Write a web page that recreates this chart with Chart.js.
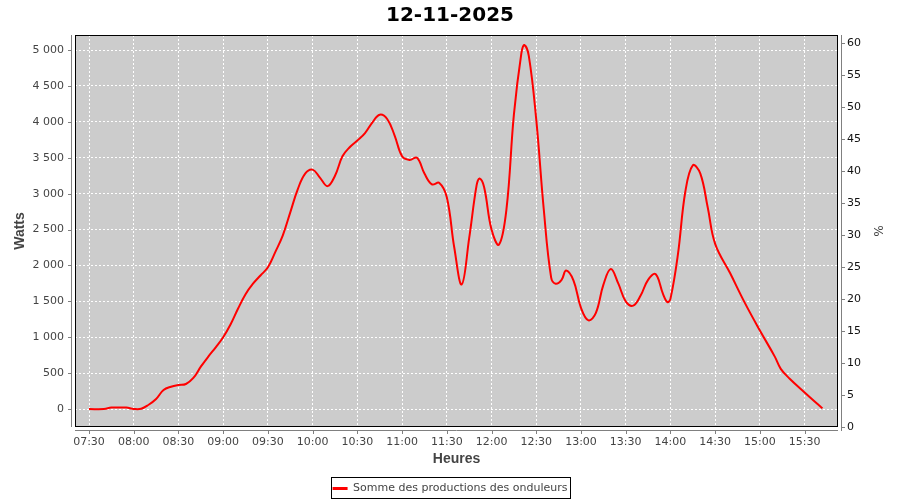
<!DOCTYPE html>
<html>
<head>
<meta charset="utf-8">
<script src="https://cdn.jsdelivr.net/npm/chart.js@4.4.1/dist/chart.umd.min.js"></script>
<style>
  html, body { margin: 0; padding: 0; background: #fff; }
  #wrap { width: 900px; height: 500px; }
</style>
</head>
<body>
<div id="wrap"><canvas id="chart" width="900" height="500"></canvas></div>
<script>
// production sampled from the inverters (time of day, watts)
const times = [
  '07:30', '07:40', '07:45', '07:50', '07:55', '08:00', '08:05', '08:10', '08:15', '08:20',
  '08:25', '08:30', '08:35', '08:40', '08:45', '08:50', '08:55', '09:00', '09:05', '09:10',
  '09:15', '09:20', '09:25', '09:30', '09:35', '09:40', '09:45', '09:50', '09:55', '10:00',
  '10:05', '10:10', '10:15', '10:20', '10:25', '10:30', '10:35', '10:40', '10:45', '10:50',
  '10:55', '11:00', '11:05', '11:10', '11:15', '11:20', '11:25', '11:30', '11:35', '11:40',
  '11:45', '11:50', '11:52', '11:55', '12:00', '12:05', '12:10', '12:15', '12:20', '12:22',
  '12:25', '12:30', '12:35', '12:40', '12:43', '12:47', '12:50', '12:55', '13:00', '13:05',
  '13:10', '13:15', '13:20', '13:25', '13:30', '13:35', '13:40', '13:45', '13:50', '13:55',
  '13:58', '14:00', '14:05', '14:10', '14:15', '14:20', '14:25', '14:30', '14:40', '14:50',
  '15:00', '15:10', '15:14', '15:20', '15:30', '15:40', '15:42',
];
const watts = [
  0, 0, 20, 20, 20, 2, 5, 60, 140, 265,
  311, 335, 349, 433, 590, 730, 860, 1000, 1180, 1400,
  1600, 1746, 1860, 1975, 2190, 2420, 2740, 3060, 3280, 3335,
  3220, 3105, 3250, 3520, 3650, 3740, 3840, 3990, 4100, 4040,
  3810, 3520, 3470, 3500, 3280, 3130, 3150, 2950, 2250, 1736,
  2380, 3119, 3212, 3093, 2500, 2290, 2780, 4100, 4954, 5070,
  4920, 4030, 2790, 1830, 1746, 1800, 1930, 1790, 1410, 1235,
  1340, 1730, 1950, 1750, 1500, 1440, 1580, 1800, 1880, 1605,
  1489, 1535, 2150, 3030, 3395, 3282, 2810, 2300, 1894, 1475,
  1094, 730, 560, 423, 232, 46, 10,
];

// tick labels on the three axes
const wattTicks = [0, 500, 1000, 1500, 2000, 2500, 3000, 3500, 4000, 4500, 5000];
const pctTicks = [0, 5, 10, 15, 20, 25, 30, 35, 40, 45, 50, 55, 60];
const hourTicks = [
  '07:30', '08:00', '08:30', '09:00', '09:30', '10:00', '10:30', '11:00', '11:30',
  '12:00', '12:30', '13:00', '13:30', '14:00', '14:30', '15:00', '15:30',
];

const wattRange = { min: -250, max: 5210 };
const pctRange = { min: 0, max: 61.3 };
const timeRange = { min: '07:20.6', max: '15:52.4' };

const toMinutes = s => { const [h, m] = s.split(':').map(Number); return h * 60 + m; };
const toLabel = v => {
  const h = Math.floor(v / 60), m = Math.round(v % 60);
  return String(h).padStart(2, '0') + ':' + String(m).padStart(2, '0');
};
const spaced = v => String(Math.round(v)).replace(/\B(?=(\d{3})+(?!\d))/g, ' ');
const fixedTicks = values => s => { s.ticks = values.map(v => ({ value: v })); };

Chart.defaults.font.family = "'DejaVu Sans', sans-serif";
Chart.defaults.font.size = 11;
Chart.defaults.color = '#444444';

// grey plot background, black frame, offset grey axis lines with small outward ticks
const frame = {
  id: 'frame',
  beforeDraw(chart) {
    const { ctx, chartArea: a } = chart;
    ctx.save();
    ctx.fillStyle = '#cccccc';
    ctx.fillRect(a.left, a.top, a.right - a.left, a.bottom - a.top);
    ctx.restore();
  },
  afterDraw(chart) {
    const { ctx, chartArea: a, scales } = chart;
    ctx.save();
    ctx.lineWidth = 1;
    ctx.strokeStyle = '#000';
    ctx.strokeRect(a.left + 0.5, a.top + 0.5, a.right - a.left - 1, a.bottom - a.top - 1);

    ctx.strokeStyle = '#808080';
    ctx.beginPath();
    const lx = a.left - 3.5;
    ctx.moveTo(lx, a.top); ctx.lineTo(lx, a.bottom);
    scales.y.ticks.forEach(t => {
      const y = Math.round(scales.y.getPixelForValue(t.value)) + 0.5;
      ctx.moveTo(lx - 3.5, y); ctx.lineTo(lx, y);
    });
    const rx = a.right + 3.5;
    ctx.moveTo(rx, a.top); ctx.lineTo(rx, a.bottom + 4);
    scales.y2.ticks.forEach(t => {
      const y = Math.round(scales.y2.getPixelForValue(t.value)) + 0.5;
      ctx.moveTo(rx, y); ctx.lineTo(rx + 3.5, y);
    });
    const by = a.bottom + 3.5;
    ctx.moveTo(a.left, by); ctx.lineTo(a.right, by);
    scales.x.ticks.forEach(t => {
      const x = Math.round(scales.x.getPixelForValue(t.value)) + 0.5;
      ctx.moveTo(x, by); ctx.lineTo(x, by + 3.5);
    });
    ctx.stroke();

    // border round the legend
    const lg = chart.legend;
    if (lg && lg.legendHitBoxes && lg.legendHitBoxes.length) {
      const hb = lg.legendHitBoxes[0];
      ctx.strokeStyle = '#000';
      ctx.strokeRect(Math.round(hb.left) - 1.5, Math.round(hb.top) - 5.5, Math.round(hb.width) + 4, Math.round(hb.height) + 10);
    }
    ctx.restore();
  },
};

const canvas = document.getElementById('chart');
const chart = new Chart(canvas, {
  type: 'line',
  data: {
    datasets: [
      {
        label: 'Somme des productions des onduleurs',
        data: times.map((t, i) => ({ x: toMinutes(t), y: watts[i] })),
        borderColor: '#ff0000',
        backgroundColor: '#ff0000',
        borderWidth: 2,
        pointRadius: 0,
        tension: 0.4,
        yAxisID: 'y',
      },
    ],
  },
  options: {
    responsive: false,
    animation: false,
    events: [],
    layout: { padding: { left: 0, right: 0, top: 0, bottom: -4 } },
    scales: {
      x: {
        type: 'linear',
        min: toMinutes(timeRange.min),
        max: toMinutes(timeRange.max),
        afterFit: s => { s.height = 51; },
        afterBuildTicks: fixedTicks(hourTicks.map(toMinutes)),
        grid: { color: '#ffffff', lineWidth: 1, drawTicks: false },
        border: { display: false, dash: [2, 2] },
        ticks: {
          autoSkip: false,
          maxRotation: 0,
          padding: 9,
          color: '#444444',
          callback: v => toLabel(v),
        },
        title: {
          display: true,
          text: 'Heures',
          color: '#444444',
          font: { size: 14, weight: 'bold', family: "'Liberation Sans', sans-serif" },
          padding: { top: 2, bottom: 10 },
        },
      },
      y: {
        position: 'left',
        min: wattRange.min,
        max: wattRange.max,
        afterFit: s => { s.width = 75; },
        afterBuildTicks: fixedTicks(wattTicks),
        grid: { color: '#ffffff', lineWidth: 1, drawTicks: false },
        border: { display: false, dash: [2, 2] },
        ticks: {
          autoSkip: false,
          padding: 11,
          color: '#444444',
          callback: v => spaced(v),
        },
        title: {
          display: true,
          text: 'Watts',
          color: '#444444',
          font: { size: 14, weight: 'bold', family: "'Liberation Sans', sans-serif" },
          padding: { top: 12, bottom: 0 },
        },
      },
      y2: {
        position: 'right',
        min: pctRange.min,
        max: pctRange.max,
        afterFit: s => { s.width = 62; },
        afterBuildTicks: fixedTicks(pctTicks),
        grid: { display: false, drawTicks: false },
        border: { display: false },
        ticks: {
          autoSkip: false,
          padding: 9,
          color: '#111111',
        },
        title: {
          display: true,
          text: '%',
          color: '#444444',
          font: { size: 12 },
          padding: { top: 16, bottom: 0 },
        },
      },
    },
    plugins: {
      title: {
        display: true,
        text: '12-11-2025',
        color: '#000000',
        font: { size: 20, weight: 'bold' },
        padding: { top: 4, bottom: 7 },
      },
      legend: {
        display: true,
        position: 'bottom',
        labels: {
          usePointStyle: true,
          pointStyle: 'line',
          pointStyleWidth: 15,
          padding: 5,
          color: '#444444',
          font: { size: 11 },
          generateLabels: c => c.data.datasets.map((d, i) => ({
            text: d.label,
            strokeStyle: d.borderColor,
            fillStyle: d.borderColor,
            lineWidth: 3,
            pointStyle: 'line',
            datasetIndex: i,
            fontColor: '#444444',
          })),
        },
      },
      tooltip: { enabled: false },
    },
  },
  plugins: [frame],
});
</script>
</body>
</html>
